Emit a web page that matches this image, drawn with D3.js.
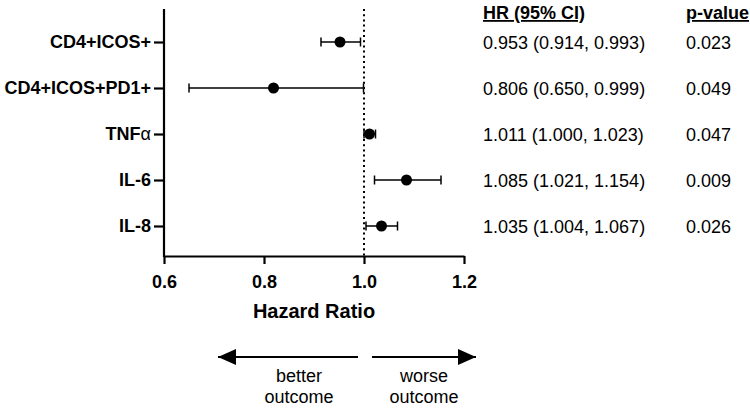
<!DOCTYPE html>
<html>
<head>
<meta charset="utf-8">
<script src="https://cdn.jsdelivr.net/npm/d3@7"></script>
<style>
  html, body { margin: 0; padding: 0; background: #fff; }
  svg { display: block; font-family: "Liberation Sans", Arial, sans-serif; }
</style>
</head>
<body>
<svg id="chart" width="750" height="408"></svg>
<script>
// ---- data ----
const categories = ["CD4+ICOS+", "CD4+ICOS+PD1+", "TNFα", "IL-6", "IL-8"];
const hrPlotted = [0.952, 0.819, 1.011, 1.085, 1.035];
const ciLow = [0.914, 0.650, 1.000, 1.021, 1.004];
const ciHigh = [0.993, 0.999, 1.023, 1.154, 1.067];
const hrText = ["0.953 (0.914, 0.993)", "0.806 (0.650, 0.999)", "1.011 (1.000, 1.023)", "1.085 (1.021, 1.154)", "1.035 (1.004, 1.067)"];
const pValues = ["0.023", "0.049", "0.047", "0.009", "0.026"];
const xTicks = [0.6, 0.8, 1.0, 1.2];
const refValue = 1.0;

const svg = d3.select("#chart");
const x = d3.scaleLinear().domain([0.6, 1.2]).range([164, 464]);
const y = d3.scalePoint().domain(categories).range([42, 226]);
const axisTop = 9, axisBottomY = 256;

// reference dotted line
svg.append("line")
  .attr("x1", x(refValue)).attr("x2", x(refValue))
  .attr("y1", axisTop).attr("y2", axisBottomY)
  .attr("stroke", "#000").attr("stroke-width", 2)
  .attr("stroke-dasharray", "2,3.2");

// x axis
const gx = svg.append("g").attr("transform", `translate(0,${axisBottomY})`)
  .call(d3.axisBottom(x).tickValues(xTicks).tickFormat(d3.format(".1f"))
    .tickSize(8).tickSizeOuter(0).tickPadding(11));
gx.select(".domain").attr("stroke-width", 2.2);
gx.selectAll(".tick line").attr("stroke-width", 2.2);
gx.selectAll(".tick text").attr("font-size", 18).attr("font-weight", "bold")
  .attr("fill", "#000").attr("font-family", "Liberation Sans, Arial, sans-serif");

// y axis
const gy = svg.append("g").attr("transform", `translate(${x(0.6)},0)`)
  .call(d3.axisLeft(y).tickSize(10).tickSizeOuter(0).tickPadding(3));
gy.select(".domain").remove();
gy.append("line").attr("x1", 0).attr("x2", 0).attr("y1", axisTop).attr("y2", axisBottomY + 1)
  .attr("stroke", "#000").attr("stroke-width", 2.2);
gy.selectAll(".tick line").attr("stroke-width", 2.2);
gy.selectAll(".tick text")
  .attr("font-size", 18).attr("font-weight", "bold").attr("fill", "#000")
  .attr("font-family", "Liberation Sans, Arial, sans-serif")
  .each(function(d) {
    const t = d3.select(this);
    if (d === "TNFα") {
      t.text("");
      t.append("tspan").text("TNF");
      t.append("tspan").attr("font-weight", "normal").text("α");
    }
  });

// axis title
svg.append("text").attr("x", (x(0.6) + x(1.2)) / 2).attr("y", 318)
  .attr("text-anchor", "middle").attr("font-size", 20).attr("font-weight", "bold")
  .text("Hazard Ratio");

// error bars + points
const rows = categories.map((c, i) => ({c, hr: hrPlotted[i], lo: ciLow[i], hi: ciHigh[i]}));
const capH = 4.5;
const g = svg.append("g");
rows.forEach(r => {
  const yy = y(r.c);
  g.append("line").attr("x1", x(r.lo)).attr("x2", x(r.hi)).attr("y1", yy).attr("y2", yy)
    .attr("stroke", "#000").attr("stroke-width", 1.5);
  [r.lo, r.hi].forEach(v => {
    g.append("line").attr("x1", x(v)).attr("x2", x(v)).attr("y1", yy - capH).attr("y2", yy + capH)
      .attr("stroke", "#000").attr("stroke-width", 1.5);
  });
  g.append("circle").attr("cx", x(r.hr)).attr("cy", yy).attr("r", 5.5).attr("fill", "#000");
});

// table
svg.append("text").attr("x", 483).attr("y", 19).attr("font-size", 18).attr("font-weight", "bold")
  .attr("text-decoration", "underline").text("HR (95% CI)");
svg.append("text").attr("x", 686).attr("y", 19).attr("font-size", 18).attr("font-weight", "bold")
  .attr("text-decoration", "underline").text("p-value");
categories.forEach((c, i) => {
  svg.append("text").attr("x", 483).attr("y", y(c) + 6.5).attr("font-size", 18).text(hrText[i]);
  svg.append("text").attr("x", 686).attr("y", y(c) + 6.5).attr("font-size", 18).text(pValues[i]);
});

// direction arrows
const arrowY = 357;
svg.append("defs").append("marker").attr("id", "head")
  .attr("viewBox", "0 0 18 16").attr("refX", 18).attr("refY", 8)
  .attr("markerWidth", 18).attr("markerHeight", 16).attr("markerUnits", "userSpaceOnUse")
  .attr("orient", "auto")
  .append("path").attr("d", "M0,0 L18,8 L0,16 Z").attr("fill", "#000");
svg.append("line").attr("x1", 358).attr("x2", 218).attr("y1", arrowY).attr("y2", arrowY)
  .attr("stroke", "#000").attr("stroke-width", 2).attr("marker-end", "url(#head)");
svg.append("line").attr("x1", 372).attr("x2", 476).attr("y1", arrowY).attr("y2", arrowY)
  .attr("stroke", "#000").attr("stroke-width", 2).attr("marker-end", "url(#head)");

const lab = [{x: 299, lines: ["better", "outcome"]}, {x: 424, lines: ["worse", "outcome"]}];
lab.forEach(l => {
  l.lines.forEach((s, j) => {
    svg.append("text").attr("x", l.x).attr("y", 382 + j * 21).attr("text-anchor", "middle")
      .attr("font-size", 18).text(s);
  });
});
</script>
</body>
</html>
